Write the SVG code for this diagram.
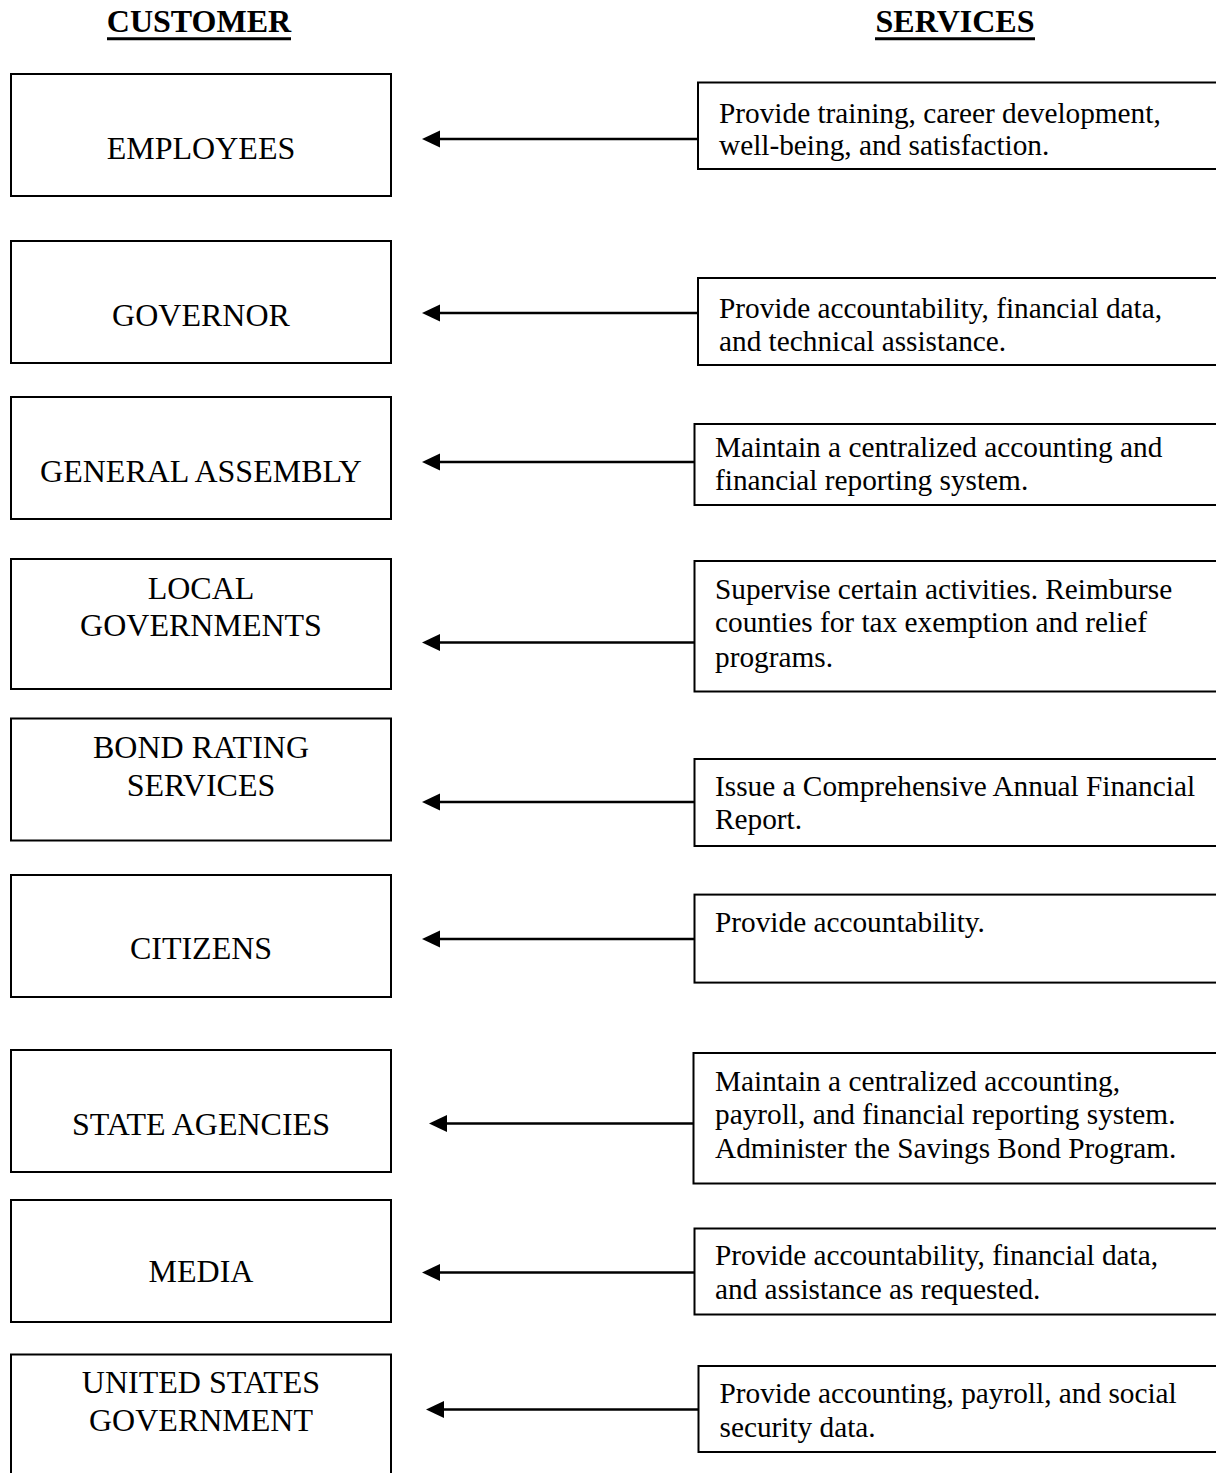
<svg xmlns="http://www.w3.org/2000/svg" width="1216" height="1473" viewBox="0 0 1216 1473">
<style>
.bg{fill:#fff}
.box{fill:#fff;stroke:#000;stroke-width:2}
.hdr{font-family:"Liberation Serif","Times New Roman",serif;font-weight:bold;font-size:32px;fill:#000;text-anchor:middle}
.ul{stroke:#000;stroke-width:3}
.cust{font-family:"Liberation Serif","Times New Roman",serif;font-size:32px;fill:#000;text-anchor:middle}
.svc{font-family:"Liberation Serif","Times New Roman",serif;font-size:29.3px;fill:#000}
.conn{stroke:#000;stroke-width:2.5;fill:none;marker-end:url(#ah)}
</style>
<defs>
<marker id="ah" markerUnits="userSpaceOnUse" markerWidth="18" markerHeight="18" viewBox="0 -8 16 16" refX="8" refY="0" orient="auto">
<path d="M0,-7.5 L16,0 L0,7.5 z" fill="#000"/>
</marker>
</defs>
<rect class="bg" x="0" y="0" width="1216" height="1473"/>
<g id="headers">
<text class="hdr" x="199" y="32">CUSTOMER</text>
<line class="ul" x1="107" y1="38.7" x2="291" y2="38.7"/>
<text class="hdr" x="955" y="32">SERVICES</text>
<line class="ul" x1="875" y1="38.7" x2="1035" y2="38.7"/>
</g>
<g id="customers">
<g id="c-employees"><rect class="box" x="11" y="74" width="380" height="122"/><text class="cust" x="201" y="158.5">EMPLOYEES</text></g>
<g id="c-governor"><rect class="box" x="11" y="241" width="380" height="122"/><text class="cust" x="201" y="326">GOVERNOR</text></g>
<g id="c-general-assembly"><rect class="box" x="11" y="397" width="380" height="122"/><text class="cust" x="201" y="482">GENERAL ASSEMBLY</text></g>
<g id="c-local-governments"><rect class="box" x="11" y="559" width="380" height="130"/><text class="cust" x="201" y="599.3">LOCAL</text><text class="cust" x="201" y="636">GOVERNMENTS</text></g>
<g id="c-bond-rating"><rect class="box" x="11" y="718.5" width="380" height="122"/><text class="cust" x="201" y="758.3">BOND RATING</text><text class="cust" x="201" y="795.7">SERVICES</text></g>
<g id="c-citizens"><rect class="box" x="11" y="875" width="380" height="122"/><text class="cust" x="201" y="959">CITIZENS</text></g>
<g id="c-state-agencies"><rect class="box" x="11" y="1050" width="380" height="122"/><text class="cust" x="201" y="1135">STATE AGENCIES</text></g>
<g id="c-media"><rect class="box" x="11" y="1200" width="380" height="122"/><text class="cust" x="201" y="1281.7">MEDIA</text></g>
<g id="c-us-government"><rect class="box" x="11" y="1354.5" width="380" height="140"/><text class="cust" x="201" y="1393.3">UNITED STATES</text><text class="cust" x="201" y="1430.7">GOVERNMENT</text></g>
</g>
<g id="services">
<g id="s-employees"><rect class="box" x="698" y="82.5" width="540" height="86.5"/><text class="svc" x="719" y="122.5">Provide training, career development,</text><text class="svc" x="719" y="155">well-being, and satisfaction.</text></g>
<g id="s-governor"><rect class="box" x="698" y="278" width="540" height="87"/><text class="svc" x="719" y="318">Provide accountability, financial data,</text><text class="svc" x="719" y="350.5">and technical assistance.</text></g>
<g id="s-general-assembly"><rect class="box" x="694.5" y="424" width="540" height="81"/><text class="svc" x="715" y="457">Maintain a centralized accounting and</text><text class="svc" x="715" y="489.5">financial reporting system.</text></g>
<g id="s-local-governments"><rect class="box" x="694.5" y="561" width="540" height="130.5"/><text class="svc" x="715" y="598.7">Supervise certain activities. Reimburse</text><text class="svc" x="715" y="632.3">counties for tax exemption and relief</text><text class="svc" x="715" y="666.5">programs.</text></g>
<g id="s-bond-rating"><rect class="box" x="694.5" y="759" width="540" height="87"/><text class="svc" x="715" y="795.7">Issue a Comprehensive Annual Financial</text><text class="svc" x="715" y="829.3">Report.</text></g>
<g id="s-citizens"><rect class="box" x="694.5" y="894.6" width="540" height="88"/><text class="svc" x="715" y="932">Provide accountability.</text></g>
<g id="s-state-agencies"><rect class="box" x="693.5" y="1053" width="540" height="130.5"/><text class="svc" x="715" y="1091">Maintain a centralized accounting,</text><text class="svc" x="715" y="1123.5">payroll, and financial reporting system.</text><text class="svc" x="715" y="1158">Administer the Savings Bond Program.</text></g>
<g id="s-media"><rect class="box" x="694.5" y="1228.5" width="540" height="86"/><text class="svc" x="715" y="1264.8">Provide accountability, financial data,</text><text class="svc" x="715" y="1299">and assistance as requested.</text></g>
<g id="s-us-government"><rect class="box" x="698.5" y="1366" width="540" height="86"/><text class="svc" x="719.5" y="1403">Provide accounting, payroll, and social</text><text class="svc" x="719.5" y="1436.6">security data.</text></g>
</g>
<g id="connectors">
<line class="conn" x1="697" y1="139" x2="431" y2="139"/>
<line class="conn" x1="697" y1="313" x2="431" y2="313"/>
<line class="conn" x1="694" y1="462" x2="431" y2="462"/>
<line class="conn" x1="694" y1="642.5" x2="431" y2="642.5"/>
<line class="conn" x1="694" y1="802" x2="431" y2="802"/>
<line class="conn" x1="694" y1="939" x2="431" y2="939"/>
<line class="conn" x1="693" y1="1123.5" x2="438" y2="1123.5"/>
<line class="conn" x1="694" y1="1272.5" x2="431" y2="1272.5"/>
<line class="conn" x1="698" y1="1409.5" x2="435" y2="1409.5"/>
</g>
</svg>
